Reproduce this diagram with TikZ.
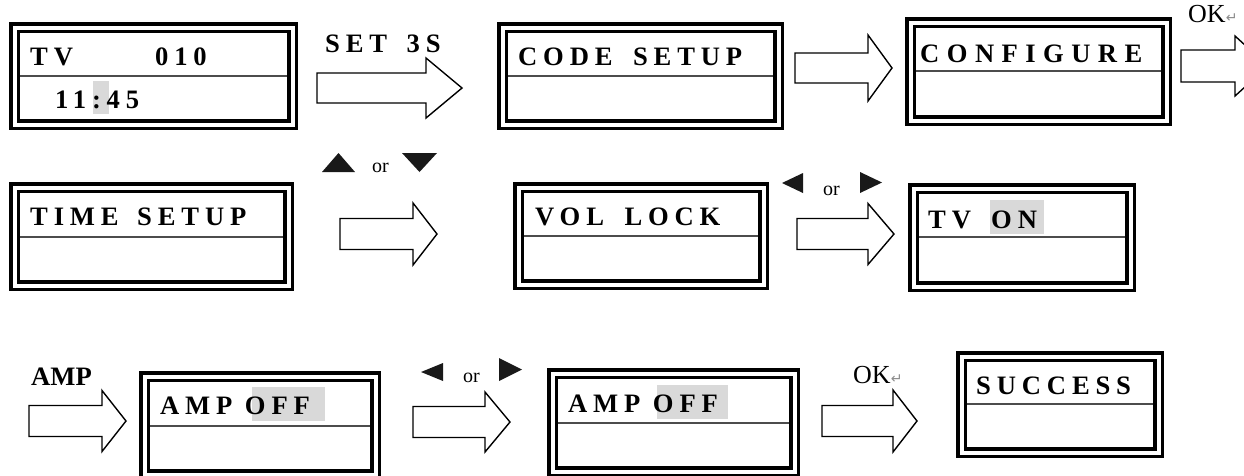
\documentclass[tikz,border=0pt]{standalone}
\usepackage{fontspec}
\setmainfont{Liberation Serif}
\newfontfamily\lcdfont[LetterSpace=22]{Liberation Serif}
\newfontfamily\lcdwidefont[LetterSpace=28]{Liberation Serif}
\newfontfamily\symfont{DejaVu Sans}
\usetikzlibrary{calc}
\tikzset{
  lcd/.style={draw=black, line width=3.5pt, double=white, double distance=4pt, fill=white, rectangle, inner sep=0pt},
  divline/.style={draw=black!70, line width=1.6pt},
  barrow/.style={draw=black, line width=1.4pt, fill=white, line join=miter},
  lcdtext/.style={font=\lcdfont\bfseries\fontsize{26.6}{30}\selectfont, inner sep=0pt, anchor=base west},
  plaintext/.style={font=\bfseries\fontsize{26.6}{30}\selectfont, inner sep=0pt, anchor=base west},
  oktext/.style={font=\fontsize{26}{30}\selectfont, inner sep=0pt, anchor=base west},
  ortext/.style={font=\fontsize{20}{24}\selectfont, inner sep=0pt, anchor=base west},
  hl/.style={fill=black!15, draw=none},
  tri/.style={fill=black!90, draw=none},
}
\newcommand\lcdbox[6]{%
  \node[lcd, minimum width={#4-#2-11}, minimum height={#5-#3-11}] (#1) at ({(#2+#4)/2},{(#3+#5)/2}) {};
  \draw[divline] ({#2+11},#6) -- ({#4-11},#6);
}
\newcommand\blockarrow[6]{%
  \draw[barrow] (#1,{#4-#5}) -- (#2,{#4-#5}) -- (#2,{#4-#6}) -- (#3,#4) -- (#2,{#4+#6}) -- (#2,{#4+#5}) -- (#1,{#4+#5}) -- cycle;
}
\begin{document}
\begin{tikzpicture}[x=1pt,y=-1pt]
\fill[white] (0,0) rectangle (1244,475);
\useasboundingbox (0,0) rectangle (1244,475);

% ---------- row 1 ----------
\lcdbox{b1}{9}{22}{298}{130}{76}
\node[lcdtext] (t1a) at (30,65) {TV};
\node[lcdtext] (t1b) at (155,65) {010};
\fill[hl] (93,81) rectangle (109,114);
\node[lcdtext] (t1c) at (55,108) {11:45};

\node[lcdtext] (l1) at (325,52) {SET\hspace{7pt} 3S};
\blockarrow{317}{426}{462}{88}{15}{30}

\lcdbox{b2}{497}{22}{784}{130}{76}
\node[lcdtext] (t2) at (518,65) {CODE\hspace{8pt} SETUP};

\blockarrow{795}{868}{892}{68}{15}{33}

\lcdbox{b3}{905}{17}{1172}{126}{71}
\node[lcdtext, font=\lcdwidefont\bfseries\fontsize{26.6}{30}\selectfont] (t3) at (920,62) {CONFIGURE};

\node[oktext] (ok1) at (1188,22) {OK{\symfont\color{black!45}\fontsize{14}{16}\selectfont ↵}};
\blockarrow{1181}{1235}{1268}{66}{16}{30}

% ---------- row 2 ----------
\lcdbox{b4}{9}{182}{294}{291}{237}
\node[lcdtext] (t4) at (30,225) {TIME\hspace{6pt} SETUP};

\fill[tri] (322,172) -- (355,172) -- (338.5,153) -- cycle;
\node[ortext] (or1) at (372,172) {or};
\fill[tri] (402,153) -- (437,153) -- (419.5,172) -- cycle;
\blockarrow{340}{413}{437}{234}{15.5}{31}

\lcdbox{b5}{513}{182}{769}{290}{236}
\node[lcdtext] (t5) at (535,225) {VOL\hspace{8pt} LOCK};

\fill[tri] (782,183) -- (803,173) -- (803,193) -- cycle;
\node[ortext] (or2) at (823,195) {or};
\fill[tri] (860,172) -- (860,193) -- (882,182.5) -- cycle;
\blockarrow{797}{868}{894}{234}{15.5}{30.5}

\lcdbox{b6}{908}{183}{1136}{292}{237}
\fill[hl] (990,200) rectangle (1044,234);
\node[lcdtext] (t6a) at (928,228) {TV};
\node[lcdtext] (t6b) at (991,228) {ON};

% ---------- row 3 ----------
\node[plaintext] (l2) at (31,385) {AMP};
\blockarrow{29}{102}{126}{421}{15.5}{30.5}

\lcdbox{b7}{139}{371}{381}{480}{426}
\fill[hl] (252,387) rectangle (325,421);
\node[lcdtext] (t7) at (160,414) {AMP OFF};

\fill[tri] (421,372) -- (443,363) -- (443,381) -- cycle;
\node[ortext] (or3) at (463,382) {or};
\fill[tri] (499,358) -- (499,381) -- (522,369.5) -- cycle;
\blockarrow{413}{485}{510}{422}{15.5}{30}

\lcdbox{b8}{547}{368}{800}{477}{423}
\fill[hl] (657,385) rectangle (728,419);
\node[lcdtext] (t8) at (568,412) {AMP OFF};

\node[oktext] (ok2) at (853,383) {OK{\symfont\color{black!45}\fontsize{14}{16}\selectfont ↵}};
\blockarrow{822}{893}{917}{421}{15.5}{31}

\lcdbox{b9}{956}{351}{1164}{458}{404}
\node[lcdtext] (t9) at (976,394) {SUCCESS};
\end{tikzpicture}
\end{document}
